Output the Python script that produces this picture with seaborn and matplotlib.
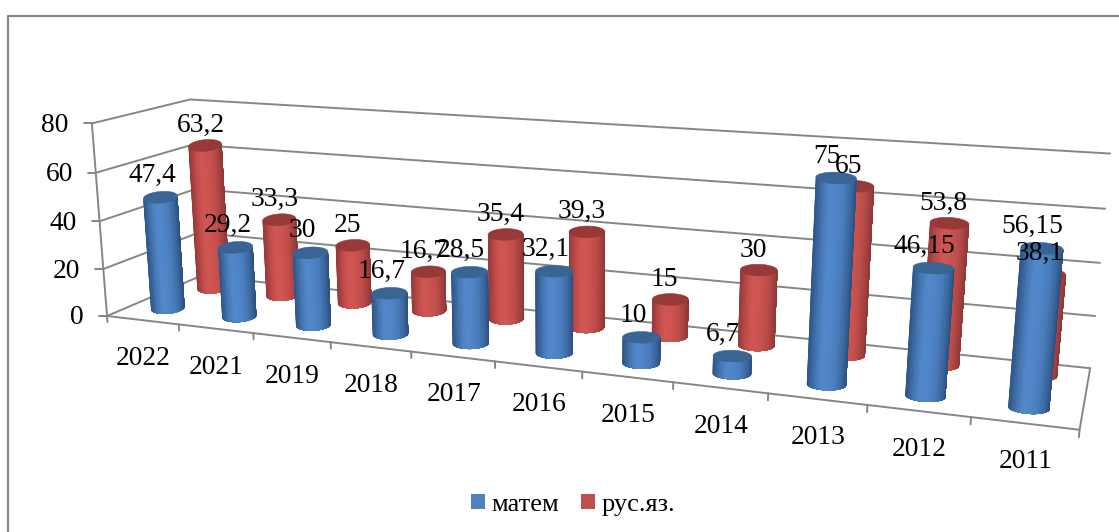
# coding=utf-8
import numpy as np
import pandas as pd
import matplotlib
matplotlib.use("Agg")
import matplotlib.pyplot as plt
from matplotlib.patches import Patch, Polygon
import seaborn as sns

years = ["2022", "2021", "2019", "2018", "2017", "2016", "2015", "2014", "2013", "2012", "2011"]
matem = [47.4, 29.2, 30, 16.7, 28.5, 32.1, 10, 6.7, 75, 46.15, 56.15]
rus = [63.2, 33.3, 25, 16.7, 35.4, 39.3, 15, 30, 65, 53.8, 38.1]
value_ticks = [0, 20, 40, 60, 80]
series_names = ["матем", "рус.яз."]
Y_MAX = 80.0

# camera fit: box coordinates (category, depth, value) -> pixel
box_pts = np.array([
    [0, 0, 0], [0, 0, 20], [0, 0, 40], [0, 0, 60], [0, 0, 80],
    [0, 1, 0], [0, 1, 20], [0, 1, 40], [0, 1, 60], [0, 1, 80],
    [1, 1, 0], [1, 1, 20], [1, 1, 40], [1, 1, 60], [1, 1, 80],
    [1, 0, 0],
], dtype=float)
pix_pts = np.array([
    [108.3, 315], [104, 268.3], [99.7, 221.7], [95, 172.7], [90.7, 123.3],
    [200, 276.7], [197.5, 233], [195, 190], [193.5, 145], [191.7, 98.3],
    [1090.7, 366.7], [1095, 315], [1100, 262.7], [1105, 209.3], [1110, 154],
    [1079.3, 431.7],
])
box_pts[:, 2] /= Y_MAX


def fit_camera(box, pix):
    rows, rhs = [], []
    for (u, v, h), (x, y) in zip(box, pix):
        rows.append([u, v, h, 1, 0, 0, 0, 0, -x * u, -x * v, -x * h])
        rows.append([0, 0, 0, 0, u, v, h, 1, -y * u, -y * v, -y * h])
        rhs += [x, y]
    p = np.linalg.lstsq(np.array(rows), np.array(rhs), rcond=None)[0]
    return np.append(p, 1).reshape(3, 4)


CAM = fit_camera(box_pts, pix_pts)


def project(u, v, value):
    u, v, h = np.broadcast_arrays(u, v, np.asarray(value, float) / Y_MAX)
    w = CAM @ np.vstack([u.ravel(), v.ravel(), h.ravel(), np.ones(u.size)])
    return np.column_stack([w[0] / w[2], w[1] / w[2]])


def ellipse(u0, v0, value, theta):
    # disc seen on screen: width from the camera, flattened height, tilt drifts along the chart
    centre = project(u0, v0, value)[0]
    ends = project(np.array([u0 - R_U, u0 + R_U]), v0, value)
    a = (ends[1, 0] - ends[0, 0]) / 2 * (1 + 0.25 * (1 - u0))
    tilt = -0.09 + 0.165 * u0
    x = centre[0] - 2 * (1 - u0) + a * np.cos(theta)
    y = centre[1] + a * tilt * np.cos(theta) - R_SCREEN * np.sin(theta)
    return np.column_stack([x, y])


def draw_cylinder(ax, u0, v0, value, ramp, top_color, z):
    # front half only, left to right; each piece runs on to the right edge so no seams show
    theta = np.linspace(np.pi, 2 * np.pi, 49)
    low = ellipse(u0, v0, 0, theta)
    high = ellipse(u0, v0, value, theta)
    for k in range(len(theta) - 1):
        idx = int((np.cos(theta[k]) + 1) / 2 * (len(ramp) - 1))
        poly = np.vstack([low[k:], high[k:][::-1]])
        ax.add_patch(Polygon(poly, closed=True, facecolor=ramp[idx], edgecolor="none", zorder=z))
    top = ellipse(u0, v0, value, np.linspace(0, 2 * np.pi, 73))
    ax.fill(top[:, 0], top[:, 1], color=top_color, lw=0.4, zorder=z + 0.5)


sns.set_theme(style="white")
plt.rcParams["font.family"] = ["Liberation Serif", "DejaVu Serif"]

df = pd.DataFrame({"year": years, "матем": matem, "рус.яз.": rus})
df["pos"] = (np.arange(len(years)) + 0.5) / len(years)

GRID = "#868686"
LABEL_SIZE = 19.8
R_U, R_SCREEN = 0.0175, 5.8
DEPTH = {"матем": 0.28, "рус.яз.": 0.78}
DRIFT = {"матем": 0.05, "рус.яз.": 0.0}
LABEL_SHIFT = {"матем": (-9.5, -22), "рус.яз.": (-6.5, -20)}
base_colors = sns.color_palette(["#4f81bd", "#c0504d"])
ramps = {
    "матем": sns.blend_palette(["#2f5688", "#4677b3", "#5288cb", "#5086c8", "#4a7dbb", "#3e6da6", "#2a4c78"], 41),
    "рус.яз.": sns.blend_palette(["#963a38", "#c04d4b", "#d05653", "#cd5451", "#c24f4c", "#ad4644", "#8a3533"], 41),
}
tops = {"матем": "#3a6494", "рус.яз.": "#953a38"}

fig = plt.figure(figsize=(11.19, 5.32), dpi=100)
ax = fig.add_axes([0, 0, 1, 1])
ax.set_xlim(0, 1119)
ax.set_ylim(532, 0)
ax.axis("off")

# chart frame
ax.plot([8, 8, 1119], [532, 16, 16], color=GRID, lw=1.6, zorder=1)

# walls
for val in value_ticks:
    pts = project(np.array([0, 0, 1]), np.array([0, 1, 1]), val)
    ax.plot(pts[:, 0], pts[:, 1], color=GRID, lw=1.4, zorder=1)
    ax.plot([pts[0, 0] - 8, pts[0, 0]], [pts[0, 1], pts[0, 1]], color=GRID, lw=1.4, zorder=1)
    ax.text(pts[0, 0] - 23, pts[0, 1] + 2, str(val), ha="right", va="center",
            fontsize=LABEL_SIZE, color="black", zorder=100)
edge = project(np.array([0, 0]), 0, np.array([0, Y_MAX]))
ax.plot(edge[:, 0], edge[:, 1], color=GRID, lw=1.4, zorder=1)
floor = project(np.array([0, 1, 1]), np.array([0, 0, 1]), 0)
ax.plot(floor[:, 0], floor[:, 1], color=GRID, lw=1.4, zorder=1)

# category ticks and labels
for tick in np.arange(len(years) + 1) / len(years):
    seg = project(np.array([tick, tick]), 0, np.array([0, -2.6]))
    ax.plot(seg[:, 0], seg[:, 1], color=GRID, lw=1.4, zorder=1)
for name, pos in zip(df["year"], df["pos"]):
    x, y = project(pos, 0, 0)[0]
    ax.text(x + 1, y + 38.5, name, ha="center", va="center", fontsize=LABEL_SIZE, color="black", zorder=100)

# cylinders: rear series first
z = 3
for series in ["рус.яз.", "матем"]:
    for pos, val in zip(df["pos"], df[series]):
        depth = DEPTH[series] - DRIFT[series] * pos
        draw_cylinder(ax, pos, depth, val, ramps[series], tops[series], z)
        x, y = project(pos, depth, val)[0]
        dx, dy = LABEL_SHIFT[series]
        ax.text(x + dx, y + dy, f"{val:g}".replace(".", ","), ha="center", va="center",
                fontsize=LABEL_SIZE, color="black", zorder=100)
        z += 1

handles = [Patch(facecolor=c, edgecolor="none") for c in base_colors]
ax.legend(handles, series_names, loc="center", bbox_to_anchor=(573 / 1119, 1 - 505 / 532), ncol=2,
          frameon=False, fontsize=19, labelcolor="black", handlelength=0.53, handleheight=0.53,
          handletextpad=0.25, columnspacing=0.85, borderpad=0)

fig.savefig("out.png", dpi=100)
plt.close(fig)
